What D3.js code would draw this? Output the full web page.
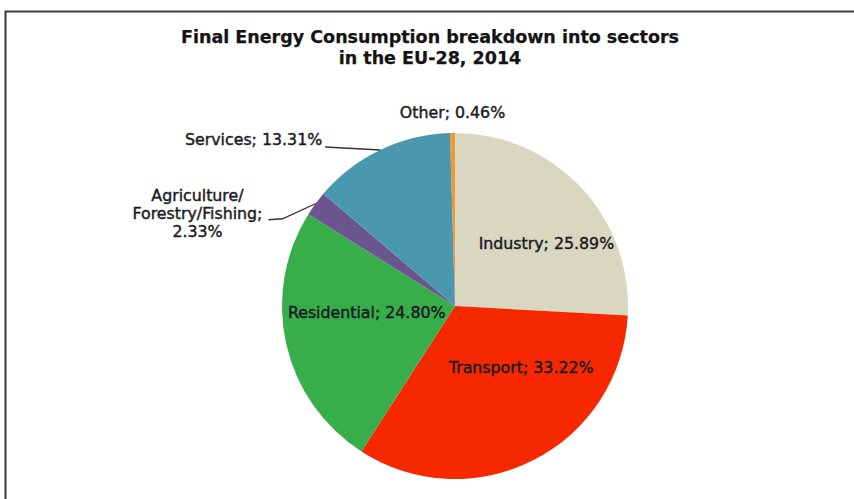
<!DOCTYPE html>
<html>
<head>
<meta charset="utf-8">
<script src="https://cdn.jsdelivr.net/npm/d3@7"></script>
<style>
  html, body { margin: 0; padding: 0; background: #fff; }
  svg { display: block; }
  text { font-family: "DejaVu Sans", Verdana, sans-serif; }
</style>
</head>
<body>
<svg id="chart" width="854" height="499"></svg>
<script>
// ---- data ----
const categories = ["Other", "Industry", "Transport", "Residential", "Agriculture/Forestry/Fishing", "Services"];
const values = [0.46, 25.89, 33.22, 24.80, 2.33, 13.31];
const colors = ["#f39633", "#dad7c1", "#f52800", "#38ae4b", "#6b5591", "#4a97b0"];
const titleLines = ["Final Energy Consumption breakdown into sectors", "in the EU-28, 2014"];
const labelLines = [
  ["Other; 0.46%"],
  ["Industry; 25.89%"],
  ["Transport; 33.22%"],
  ["Residential; 24.80%"],
  ["Agriculture/", "Forestry/Fishing;", "2.33%"],
  ["Services; 13.31%"]
];

// ---- layout ----
const W = 854, H = 499;
const cx = 455, cy = 306, R = 173;
const startAngle = -0.029;
// label placement: "in" = relative to centroid at 0.6R; "out" = relative to outer edge point
const labelLayout = [
  { mode: "out", dx: 0, dy: -15, anchor: "middle" },
  { mode: "in", dx: 16, dy: 14, anchor: "middle" },
  { mode: "in", dx: 19, dy: -25, anchor: "middle" },
  { mode: "in", dx: 13, dy: -11, anchor: "middle" },
  { mode: "out", dx: -118, dy: -3, anchor: "middle", leader: [[-33, 15], [-47, 16]] },
  { mode: "out", dx: -58, dy: -5, anchor: "end", leader: [[-55, -3]] }
];

const svg = d3.select("#chart");

// frame
svg.append("rect")
  .attr("x", 5.5).attr("y", 11.5)
  .attr("width", 900).attr("height", 600)
  .attr("fill", "#fff")
  .attr("stroke", "#3c3c3c").attr("stroke-width", 2);

// title
svg.append("text")
  .attr("x", 430).attr("y", 43)
  .attr("text-anchor", "middle")
  .attr("font-size", 17.5).attr("font-weight", "bold").attr("fill", "#141414")
  .attr("stroke", "#141414").attr("stroke-width", 0.25)
  .selectAll("tspan").data(titleLines).join("tspan")
  .attr("x", 430).attr("dy", (d, i) => i === 0 ? 0 : 21)
  .text(d => d);

const pie = d3.pie().sort(null).value(d => d).startAngle(startAngle).endAngle(startAngle + 2 * Math.PI);
const arcs = pie(values);
const arc = d3.arc().innerRadius(0).outerRadius(R);
const inArc = d3.arc().innerRadius(R * 0.6).outerRadius(R * 0.6);
const edgeArc = d3.arc().innerRadius(R).outerRadius(R);

const g = svg.append("g").attr("transform", `translate(${cx},${cy})`);

g.selectAll("path.slice").data(arcs).join("path")
  .attr("class", "slice")
  .attr("d", arc)
  .attr("fill", (d, i) => colors[i]);

// leader lines: from the slice's outer edge midpoint to the label
arcs.forEach((a, i) => {
  const L = labelLayout[i];
  if (!L.leader) return;
  const [ex, ey] = edgeArc.centroid(a);
  const pts = [[ex, ey]].concat(L.leader.map(p => [ex + p[0], ey + p[1]]));
  g.append("path")
    .attr("d", d3.line()(pts))
    .attr("fill", "none").attr("stroke", "#333").attr("stroke-width", 1.3);
});

// labels
arcs.forEach((a, i) => {
  const L = labelLayout[i];
  const [bx, by] = L.mode === "in" ? inArc.centroid(a) : edgeArc.centroid(a);
  const t = g.append("text")
    .attr("text-anchor", L.anchor)
    .attr("font-size", 15.8)
    .attr("fill", "#1c1c24")
    .attr("stroke", "#1c1c24").attr("stroke-width", 0.45);
  labelLines[i].forEach((s, j) => {
    t.append("tspan").attr("x", bx + L.dx).attr("y", by + L.dy + j * 18).text(s);
  });
});
</script>
</body>
</html>
